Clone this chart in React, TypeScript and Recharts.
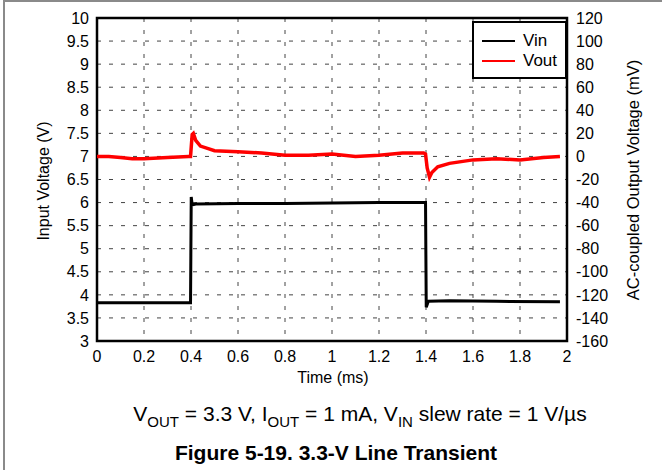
import React from 'react';
import {
    LineChart,
    Line,
    XAxis,
    YAxis,
    CartesianGrid,
    ReferenceArea,
} from 'recharts';

// time (ms), input voltage (V)
const vinTime = [0, 0.1, 0.2, 0.3, 0.398, 0.401, 0.405, 0.42, 0.6, 0.8, 1.0, 1.2, 1.398, 1.401, 1.41, 1.5, 1.7, 1.97];
const vinVolts = [3.83, 3.83, 3.83, 3.83, 3.83, 6.12, 5.95, 5.97, 5.98, 5.98, 5.99, 6.0, 6.0, 3.73, 3.86, 3.87, 3.86, 3.85];

// time (ms), AC-coupled output voltage (mV)
const voutTime = [0, 0.05, 0.1, 0.15, 0.2, 0.3, 0.39, 0.398, 0.405, 0.41, 0.42, 0.44, 0.47, 0.5, 0.6, 0.7, 0.8, 0.9, 1.0, 1.1, 1.2, 1.3, 1.39, 1.398, 1.405, 1.415, 1.425, 1.45, 1.5, 1.6, 1.7, 1.8, 1.9, 1.97];
const voutMv = [0, 0, -1, -2, -2, -1, 0, 0, 19, 20, 14, 9, 7, 5, 4, 3, 1, 1, 2, 0, 1, 3, 3, 2, -10, -18, -14, -9, -6, -3, -2, -3, -1, 0];

const timeTicks = [0, 0.2, 0.4, 0.6, 0.8, 1, 1.2, 1.4, 1.6, 1.8, 2];
const vinTicks = [3, 3.5, 4, 4.5, 5, 5.5, 6, 6.5, 7, 7.5, 8, 8.5, 9, 9.5, 10];
const voutTicks = [-160, -140, -120, -100, -80, -60, -40, -20, 0, 20, 40, 60, 80, 100, 120];

const vinData = vinTime.map((t, i) => ({ t, v: vinVolts[i] }));
const voutData = voutTime.map((t, i) => ({ t, v: voutMv[i] }));

const font = 'Liberation Sans, Arial, sans-serif';
const tickStyle = { fill: '#000', fontSize: 16, fontFamily: font };

function LegendBox() {
    const row = (color: string, label: string) => (
        <div style={{ display: 'flex', alignItems: 'center', height: 20 }}>
            <div style={{ width: 33, height: 0, borderTop: `2.5px solid ${color}`, marginRight: 8 }} />
            <span style={{ fontSize: 17, fontFamily: font, color: '#000' }}>{label}</span>
        </div>
    );
    return (
        <div
            style={{
                position: 'absolute',
                left: 472,
                top: 21,
                border: '2.5px solid #000',
                background: '#fff',
                width: 95,
                height: 58,
                boxSizing: 'border-box',
                padding: '8px 0 0 8px',
            }}
        >
            {row('#000', 'Vin')}
            {row('#f00', 'Vout')}
        </div>
    );
}

export default function App() {
    return (
        <div
            style={{
                position: 'absolute',
                left: 0,
                top: 0,
                width: 662,
                height: 470,
                background: '#fff',
                fontFamily: font,
            }}
        >
            <div
                style={{
                    position: 'absolute',
                    left: 3,
                    top: 0,
                    right: 0,
                    bottom: 0,
                    borderTop: '2px solid #8a8a8a',
                    borderLeft: '2px solid #8a8a8a',
                }}
            />
            <div style={{ position: 'absolute', left: 0, top: 0 }}>
                <LineChart width={662} height={470} margin={{ top: 18, right: 0, left: 0, bottom: 0 }}>
                    <CartesianGrid
                        yAxisId="left"
                        stroke="#444"
                        strokeDasharray="4 8"
                        horizontalValues={vinTicks}
                        verticalValues={timeTicks}
                    />
                    <XAxis
                        type="number"
                        dataKey="t"
                        domain={[0, 2]}
                        ticks={timeTicks}
                        axisLine={false}
                        tickLine={false}
                        tick={tickStyle}
                        tickMargin={4}
                        height={129}
                        allowDataOverflow
                    />
                    <YAxis
                        yAxisId="left"
                        domain={[3, 10]}
                        ticks={vinTicks}
                        axisLine={false}
                        tickLine={false}
                        tick={tickStyle}
                        tickMargin={2}
                        width={97}
                        interval={0}
                    />
                    <YAxis
                        yAxisId="right"
                        orientation="right"
                        domain={[-160, 120]}
                        ticks={voutTicks}
                        axisLine={false}
                        tickLine={false}
                        tick={tickStyle}
                        tickMargin={3}
                        width={95}
                        interval={0}
                    />
                    <ReferenceArea
                        yAxisId="left"
                        x1={0}
                        x2={2}
                        y1={3}
                        y2={10}
                        fill="none"
                        stroke="#000"
                        strokeWidth={2.5}
                    />
                    <Line
                        yAxisId="left"
                        data={vinData}
                        dataKey="v"
                        name="Vin"
                        stroke="#000"
                        strokeWidth={3}
                        dot={false}
                        type="linear"
                        isAnimationActive={false}
                    />
                    <Line
                        yAxisId="right"
                        data={voutData}
                        dataKey="v"
                        name="Vout"
                        stroke="#f00"
                        strokeWidth={3.5}
                        dot={false}
                        type="linear"
                        isAnimationActive={false}
                    />
                </LineChart>
            </div>
            <LegendBox />
            <div
                style={{
                    position: 'absolute',
                    left: 44,
                    top: 181,
                    transform: 'translate(-50%, -50%) rotate(-90deg)',
                    whiteSpace: 'nowrap',
                    fontSize: 16,
                }}
            >
                Input Voltage (V)
            </div>
            <div
                style={{
                    position: 'absolute',
                    left: 633,
                    top: 180,
                    transform: 'translate(-50%, -50%) rotate(-90deg)',
                    whiteSpace: 'nowrap',
                    fontSize: 16.5,
                }}
            >
                AC-coupled Output Voltage (mV)
            </div>
            <div
                style={{
                    position: 'absolute',
                    left: 333,
                    top: 378,
                    transform: 'translate(-50%, -50%)',
                    whiteSpace: 'nowrap',
                    fontSize: 16,
                }}
            >
                Time (ms)
            </div>
            <div
                style={{
                    position: 'absolute',
                    left: 360,
                    top: 416,
                    transform: 'translate(-50%, -50%)',
                    whiteSpace: 'nowrap',
                    fontSize: 21,
                }}
            >
                V<sub style={{ fontSize: 15 }}>OUT</sub> = 3.3 V, I<sub style={{ fontSize: 15 }}>OUT</sub> = 1 mA, V
                <sub style={{ fontSize: 15 }}>IN</sub> slew rate = 1 V/µs
            </div>
            <div
                style={{
                    position: 'absolute',
                    left: 336,
                    top: 453,
                    transform: 'translate(-50%, -50%)',
                    whiteSpace: 'nowrap',
                    fontSize: 21,
                    fontWeight: 'bold',
                }}
            >
                Figure 5-19. 3.3-V Line Transient
            </div>
        </div>
    );
}
